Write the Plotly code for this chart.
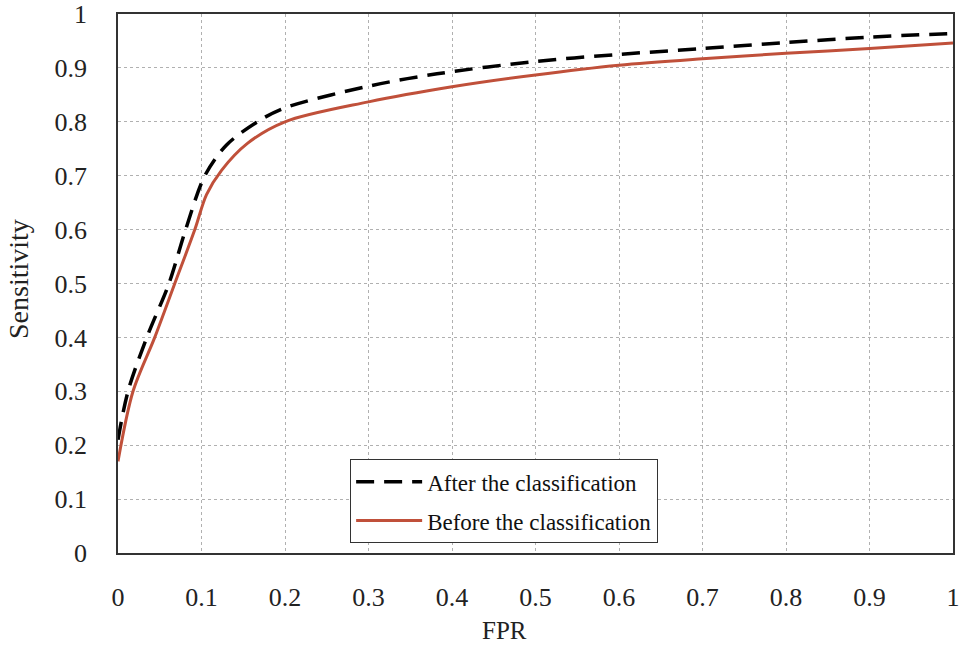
import plotly.graph_objects as go

# Data
fpr_after = [0, 0.012, 0.0345, 0.061, 0.081, 0.104, 0.13, 0.17, 0.20, 0.30, 0.382, 0.50, 0.60, 0.70, 0.80, 0.90, 1.00]
sens_after = [0.21, 0.30, 0.40, 0.50, 0.60, 0.70, 0.757, 0.803, 0.826, 0.866, 0.889, 0.912, 0.925, 0.936, 0.947, 0.957, 0.964]

fpr_before = [0, 0.018, 0.044, 0.068, 0.092, 0.106, 0.124, 0.155, 0.20, 0.30, 0.40, 0.50, 0.60, 0.70, 0.80, 0.90, 1.00]
sens_before = [0.17, 0.30, 0.40, 0.50, 0.60, 0.665, 0.71, 0.76, 0.80, 0.837, 0.865, 0.887, 0.905, 0.917, 0.927, 0.936, 0.946]

tick_vals = [0, 0.1, 0.2, 0.3, 0.4, 0.5, 0.6, 0.7, 0.8, 0.9, 1]
tick_text = ["0", "0.1", "0.2", "0.3", "0.4", "0.5", "0.6", "0.7", "0.8", "0.9", "1"]

series_names = ["After the classification", "Before the classification"]

font_family = "Liberation Serif, DejaVu Serif, serif"

fig = go.Figure()
fig.add_trace(go.Scatter(x=fpr_after, y=sens_after, mode="lines", name=series_names[0], legendgroup="a",
                         line=dict(color="black", width=3.5, dash="18px,10px", shape="spline", smoothing=0.9)))
fig.add_trace(go.Scatter(x=fpr_before, y=sens_before, mode="lines", name=series_names[1], legendgroup="b",
                         line=dict(color="#c0503a", width=3, shape="spline", smoothing=0.9)))

axis_common = dict(range=[0, 1], tickvals=tick_vals, ticktext=tick_text, showgrid=True,
                   gridcolor="#b0b0b0", griddash="dot", gridwidth=1, zeroline=False,
                   showline=True, linecolor="#333333", linewidth=1.5, mirror=True,
                   ticks="", automargin=False,
                   tickfont=dict(family=font_family, size=26, color="#222"))

fig.update_layout(
    width=961, height=646,
    margin=dict(l=118, r=8, t=14, b=93),
    paper_bgcolor="white", plot_bgcolor="white",
    font=dict(family=font_family, color="#222"),
    xaxis=dict(**axis_common, ticklabelstandoff=20),
    yaxis=dict(**axis_common, ticklabelstandoff=24),
    legend=dict(x=0.278, y=0.174, xanchor="left", yanchor="top", bgcolor="white",
                bordercolor="#333333", borderwidth=1,
                font=dict(family=font_family, size=23, color="#111"),
                itemwidth=66, tracegroupgap=6),
    showlegend=True,
    annotations=[
        dict(text="FPR", xref="paper", yref="paper", x=0.463, y=-0.143, showarrow=False,
             xanchor="center", yanchor="middle", font=dict(family=font_family, size=25, color="#222")),
        dict(text="Sensitivity", xref="paper", yref="paper", x=-0.12, y=0.508, showarrow=False,
             textangle=-90, xanchor="center", yanchor="middle",
             font=dict(family=font_family, size=28, color="#222")),
    ],
)

fig.write_html("out.html", config={"displayModeBar": False},
               post_script="document.body.style.margin='0';")
